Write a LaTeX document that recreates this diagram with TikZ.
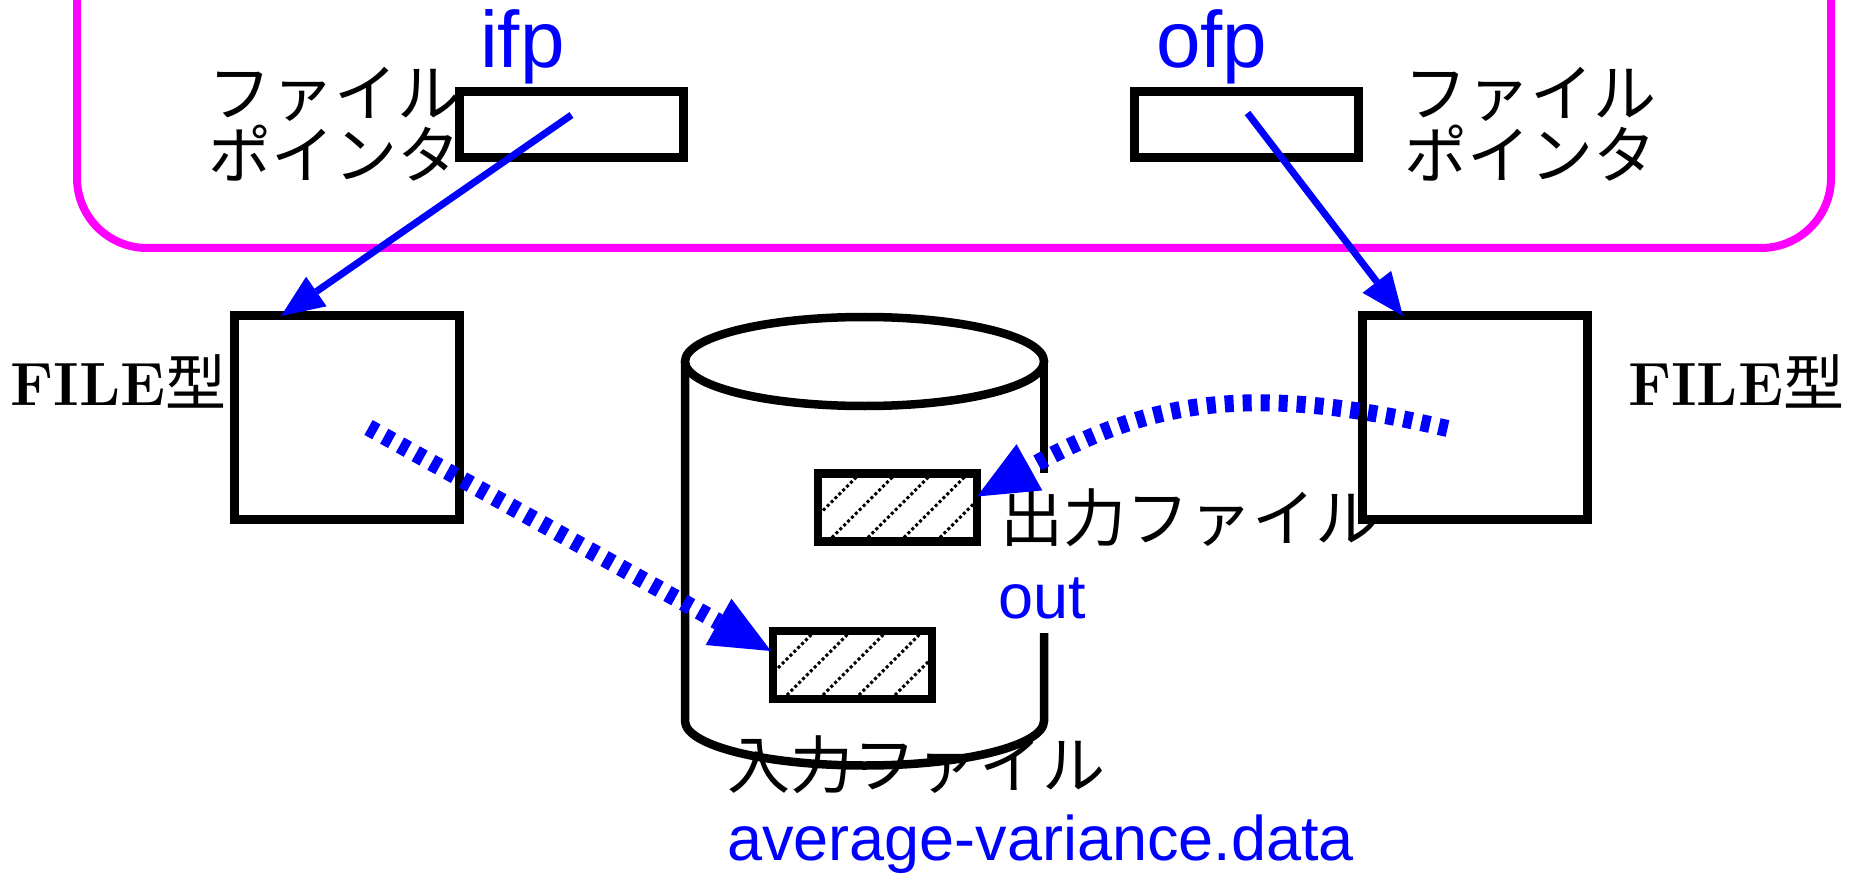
\documentclass[tikz,border=0pt]{standalone}
\usepackage{fontspec}
\usetikzlibrary{arrows.meta,calc}
\newfontfamily\jpfont{Noto Sans CJK JP}
\newfontfamily\labfont{Liberation Sans}
\definecolor{ptrblue}{RGB}{0,0,255}
\definecolor{progmag}{RGB}{255,0,255}

\tikzset{
  progframe/.style={draw=progmag, line width=8, rounded corners=70},
  ptrbox/.style={draw, line width=9, minimum width=224, minimum height=66, inner sep=0, outer sep=0},
  filebox/.style={draw, line width=9, minimum width=225, minimum height=203, inner sep=0, outer sep=0},
  datarec/.style={draw, line width=8.5, minimum width=159, minimum height=68, inner sep=0, outer sep=0,
    path picture={
      \foreach \k in {-3,...,4}
        \draw[line width=3, dash pattern=on 3pt off 2.5pt]
          ($(path picture bounding box.south west)+(10+36*\k,0)$) -- ++(110,110);
    }},
  cylline/.style={draw, line width=8.5},
  jplabel/.style={font=\jpfont\fontsize{63}{62}\selectfont, inner sep=0, align=left},
  typelabel/.style={font=\bfseries\fontsize{61}{70}\selectfont, inner sep=0},
  bigvar/.style={font=\labfont\fontsize{80}{90}\selectfont, text=ptrblue, inner sep=0},
  smallvar/.style={font=\labfont\fontsize{63}{70}\selectfont, text=ptrblue, inner sep=0},
  ptrarrow/.style={draw=ptrblue, line width=7, -{Triangle[length=43pt,width=36pt,line width=0pt]}},
  streamarrow/.style={draw=ptrblue, line width=17, dash pattern=on 9pt off 9pt,
    -{Triangle[length=60pt,width=53pt,line width=0pt]}},
}

\begin{document}
\begin{tikzpicture}[x=1pt,y=1pt]
\useasboundingbox (0,0) rectangle (1854,-882);

% program area (open at the top)
\begin{scope}
  \clip (0,0) rectangle (1854,-882);
  \draw[progframe] (77,40) -- (77,-248) -- (1831,-248) -- (1831,40);
\end{scope}

% file pointer variables
\node[ptrbox] (ifpbox) at (571.5,-125) {};
\node[ptrbox] (ofpbox) at (1246.5,-125) {};
\node[bigvar, anchor=base west] (ifplbl) at (480,-68) {ifp};
\node[bigvar, anchor=base west] (ofplbl) at (1156,-68) {ofp};
\node[jplabel, anchor=east] (lptrlbl) at (461,-124) {ファイル\\ポインタ};
\node[jplabel, anchor=west] (rptrlbl) at (1404,-124) {ファイル\\ポインタ};

% FILE structures
\node[filebox] (fileL) at (346.5,-417.5) {};
\node[filebox] (fileR) at (1474.5,-417.5) {};
\node[typelabel, anchor=base east] (ltype) at (227,-405) {FILE{\mdseries\jpfont 型}};
\node[typelabel, anchor=base west] (rtype) at (1628,-405) {FILE{\mdseries\jpfont 型}};

% disk
\draw[cylline] (864.5,-361.5) ellipse[x radius=179.5, y radius=44.5];
\draw[cylline] (685,-361.5) -- (685,-721)
  arc[start angle=180, end angle=360, x radius=179.5, y radius=44.5] -- (1044,-633);
\draw[cylline] (1044,-361.5) -- (1044,-473);

% files on the disk
\node[datarec] (outrec) at (897.5,-507.5) {};
\node[datarec] (inrec) at (852.5,-665) {};
\node[jplabel, anchor=west] (outjp) at (1000,-518) {出力ファイル};
\node[smallvar, anchor=base west] (outvar) at (998,-618) {out};
\node[jplabel, anchor=west] (injp) at (727,-765) {入力ファイル};
\node[smallvar, anchor=base west] (infile) at (727,-860) {average-variance.data};

% pointers and data flow
\draw[ptrarrow] ($(ifpbox.center)+(0,10)$) -- ($(fileL.north west)+(47,0)$);
\draw[ptrarrow] ($(ofpbox.center)+(1,12)$) -- ($(fileR.north west)+(41,0)$);
\draw[streamarrow] ($(fileL.center)+(22,-10)$) -- ($(inrec.west)+(-2,14)$);
\draw[streamarrow] ($(fileR.center)+(-27,-11)$)
  .. controls (1252,-383) and (1152,-399) .. ($(outrec.east)+(0,11)$);
\end{tikzpicture}
\end{document}
